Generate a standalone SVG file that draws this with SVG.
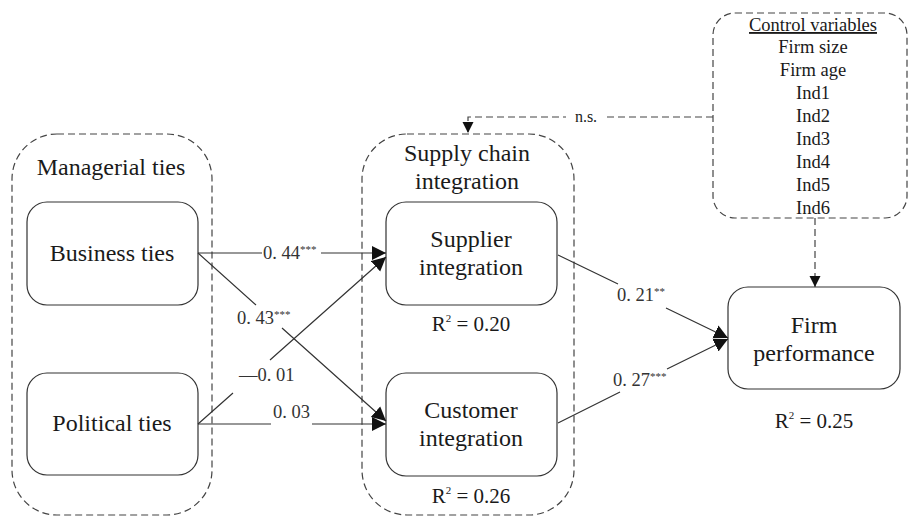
<svg xmlns="http://www.w3.org/2000/svg" width="909" height="517" viewBox="0 0 909 517">
  <defs>
    <marker id="arrow" markerUnits="userSpaceOnUse" markerWidth="15" markerHeight="15" refX="14" refY="7.5" orient="auto">
      <path d="M0,0.5 L14,7.5 L0,14.5 Z" fill="#111"/>
    </marker>
    <marker id="arrow-small" markerUnits="userSpaceOnUse" markerWidth="12" markerHeight="12" refX="11" refY="6" orient="auto">
      <path d="M0,0.5 L11,6 L0,11.5 Z" fill="#111"/>
    </marker>
  </defs>
  <style>
    text { font-family: "Liberation Serif", "DejaVu Serif", serif; fill: #1a1a1a; }
    .node { fill: #fff; stroke: #333; stroke-width: 1.2; }
    .group { fill: none; stroke: #444; stroke-width: 1.2; stroke-dasharray: 7 4; }
    .label { font-size: 24px; text-anchor: middle; }
    .r2 { font-size: 21px; text-anchor: middle; }
    .ctrl { font-size: 18.5px; text-anchor: middle; }
    .coef { font-size: 18.5px; fill: #333; }
    .sup { font-size: 11px; }
    .edge { fill: none; stroke: #333; stroke-width: 1.2; }
    .dashed-edge { fill: none; stroke: #444; stroke-width: 1.2; stroke-dasharray: 7 4; }
  </style>

  <rect width="909" height="517" fill="#fff"/>

  <!-- Dashed construct groupings -->
  <g id="managerial-ties">
    <rect class="group" x="12" y="134" width="200" height="381" rx="45" ry="45"/>
    <text class="label" x="111" y="175">Managerial ties</text>
  </g>
  <g id="supply-chain-integration">
    <rect class="group" x="362" y="134" width="212" height="381" rx="45" ry="45"/>
    <text class="label" x="467" y="161">Supply chain</text>
    <text class="label" x="467" y="189">integration</text>
  </g>
  <g id="control-variables">
    <rect class="group" x="713" y="13" width="194" height="205" rx="22" ry="22"/>
    <text class="ctrl" x="813" y="31" text-decoration="underline">Control variables</text>
    <text class="ctrl" x="813" y="53">Firm size</text>
    <text class="ctrl" x="813" y="76">Firm age</text>
    <text class="ctrl" x="813" y="99">Ind1</text>
    <text class="ctrl" x="813" y="122">Ind2</text>
    <text class="ctrl" x="813" y="145">Ind3</text>
    <text class="ctrl" x="813" y="168">Ind4</text>
    <text class="ctrl" x="813" y="191">Ind5</text>
    <text class="ctrl" x="813" y="214">Ind6</text>
  </g>

  <!-- Construct nodes -->
  <g id="business-ties">
    <rect class="node" x="27" y="202" width="171" height="103" rx="20" ry="20"/>
    <text class="label" x="112" y="261">Business ties</text>
  </g>
  <g id="political-ties">
    <rect class="node" x="27" y="373" width="171" height="102" rx="20" ry="20"/>
    <text class="label" x="112" y="431">Political ties</text>
  </g>
  <g id="supplier-integration">
    <rect class="node" x="386" y="202" width="171" height="103" rx="20" ry="20"/>
    <text class="label" x="471" y="247">Supplier</text>
    <text class="label" x="471" y="275">integration</text>
    <text class="r2" x="471" y="331">R<tspan class="sup" dy="-9">2</tspan><tspan dy="9"> = 0.20</tspan></text>
  </g>
  <g id="customer-integration">
    <rect class="node" x="386" y="373" width="171" height="103" rx="20" ry="20"/>
    <text class="label" x="471" y="418">Customer</text>
    <text class="label" x="471" y="446">integration</text>
    <text class="r2" x="471" y="503">R<tspan class="sup" dy="-9">2</tspan><tspan dy="9"> = 0.26</tspan></text>
  </g>
  <g id="firm-performance">
    <rect class="node" x="728" y="287" width="172" height="102" rx="20" ry="20"/>
    <text class="label" x="814" y="333">Firm</text>
    <text class="label" x="814" y="361">performance</text>
    <text class="r2" x="814" y="428">R<tspan class="sup" dy="-9">2</tspan><tspan dy="9"> = 0.25</tspan></text>
  </g>

  <!-- Structural paths with coefficients -->
  <g id="connectors">
    <path class="edge" d="M198,253 L262,253 M321,253 L386,253" marker-end="url(#arrow)"/>
    <path class="edge" d="M198,253 L256,305 M282,328 L386,421" marker-end="url(#arrow)"/>
    <path class="edge" d="M198,424 L233,393 M270,360 L386,257" marker-end="url(#arrow)"/>
    <path class="edge" d="M198,424 L271,424 M312,424 L386,424" marker-end="url(#arrow)"/>
    <path class="edge" d="M558,255 L618,284 M666,308 L728,338" marker-end="url(#arrow)"/>
    <path class="edge" d="M558,423 L620,392 M667,369 L728,339" marker-end="url(#arrow)"/>

    <path class="dashed-edge" d="M713,117 L468,117 L468,133" marker-end="url(#arrow-small)"/>
    <path class="dashed-edge" d="M815,218 L815,287" marker-end="url(#arrow-small)"/>

    <text class="coef" x="263" y="259">0. 44<tspan class="sup" dy="-6">***</tspan></text>
    <text class="coef" x="237" y="324">0. 43<tspan class="sup" dy="-6">***</tspan></text>
    <text class="coef" x="239" y="381">—0. 01</text>
    <text class="coef" x="273" y="418">0. 03</text>
    <text class="coef" x="617" y="301">0. 21<tspan class="sup" dy="-6">**</tspan></text>
    <text class="coef" x="613" y="386">0. 27<tspan class="sup" dy="-6">***</tspan></text>
    <rect x="566" y="108" width="40" height="17" fill="#fff"/>
    <text x="586" y="122" font-size="16" text-anchor="middle" fill="#222">n.s.</text>
  </g>
</svg>
